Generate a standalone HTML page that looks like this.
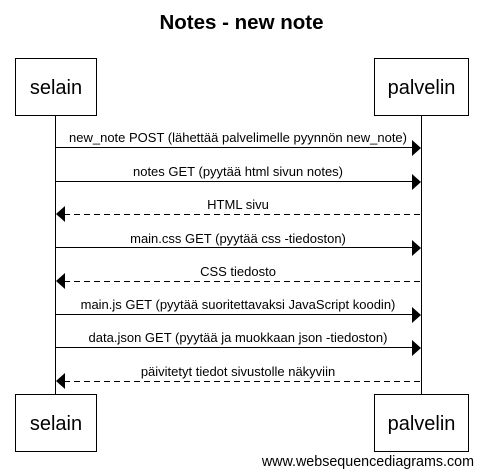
<!DOCTYPE html>
<html><head><meta charset="utf-8"><style>
html,body{margin:0;padding:0;background:#fff;}
svg{display:block;}
text{font-family:"Liberation Sans",Arial,sans-serif;fill:#000;}
</style></head><body>
<svg width="483" height="476" viewBox="0 0 483 476" xmlns="http://www.w3.org/2000/svg">
<text x="241.5" y="29" font-size="20.5" font-weight="bold" text-anchor="middle">Notes - new note</text>
<line x1="55.5" y1="115" x2="55.5" y2="394" stroke="#000"/>
<line x1="421.5" y1="115" x2="421.5" y2="394" stroke="#000"/>
<rect x="15.5" y="58.5" width="81" height="57" fill="#fff" stroke="#000"/>
<rect x="374.5" y="58.5" width="94" height="57" fill="#fff" stroke="#000"/>
<rect x="15.5" y="394.5" width="81" height="57" fill="#fff" stroke="#000"/>
<rect x="374.5" y="394.5" width="94" height="57" fill="#fff" stroke="#000"/>
<g font-size="20" text-anchor="middle">
<text x="56" y="94">selain</text><text x="421.5" y="94">palvelin</text>
<text x="56" y="430">selain</text><text x="421.5" y="430">palvelin</text>
</g>
<g font-size="13" text-anchor="middle">
<text x="238" y="142">new_note POST (lähettää palvelimelle pyynnön new_note)</text>
<text x="238" y="176">notes GET (pyytää html sivun notes)</text>
<text x="238" y="209">HTML sivu</text>
<text x="238" y="243">main.css GET (pyytää css -tiedoston)</text>
<text x="238" y="276">CSS tiedosto</text>
<text x="238" y="309">main.js GET (pyytää suoritettavaksi JavaScript koodin)</text>
<text x="238" y="342">data.json GET (pyytää ja muokkaan json -tiedoston)</text>
<text x="238" y="376">päivitetyt tiedot sivustolle näkyviin</text>
</g>
<g stroke="#000">
<line x1="55" y1="147.5" x2="413" y2="147.5"/>
<line x1="55" y1="181.5" x2="413" y2="181.5"/>
<line x1="64" y1="214.5" x2="421" y2="214.5" stroke-dasharray="6,4"/>
<line x1="55" y1="247.5" x2="413" y2="247.5"/>
<line x1="64" y1="281.5" x2="421" y2="281.5" stroke-dasharray="6,4"/>
<line x1="55" y1="314.5" x2="413" y2="314.5"/>
<line x1="55" y1="347.5" x2="413" y2="347.5"/>
<line x1="64" y1="381.5" x2="421" y2="381.5" stroke-dasharray="6,4"/>
</g>
<g fill="#000">
<polygon points="412,140 421,148 412,156"/>
<polygon points="412,174 421,182 412,190"/>
<polygon points="65,206 56,214 65,222"/>
<polygon points="412,240 421,248 412,256"/>
<polygon points="65,273 56,281 65,289"/>
<polygon points="412,307 421,315 412,323"/>
<polygon points="412,340 421,348 412,356"/>
<polygon points="65,373 56,381 65,389"/>
</g>
<text x="474" y="466" font-size="14.3" text-anchor="end">www.websequencediagrams.com</text>
</svg>
</body></html>
